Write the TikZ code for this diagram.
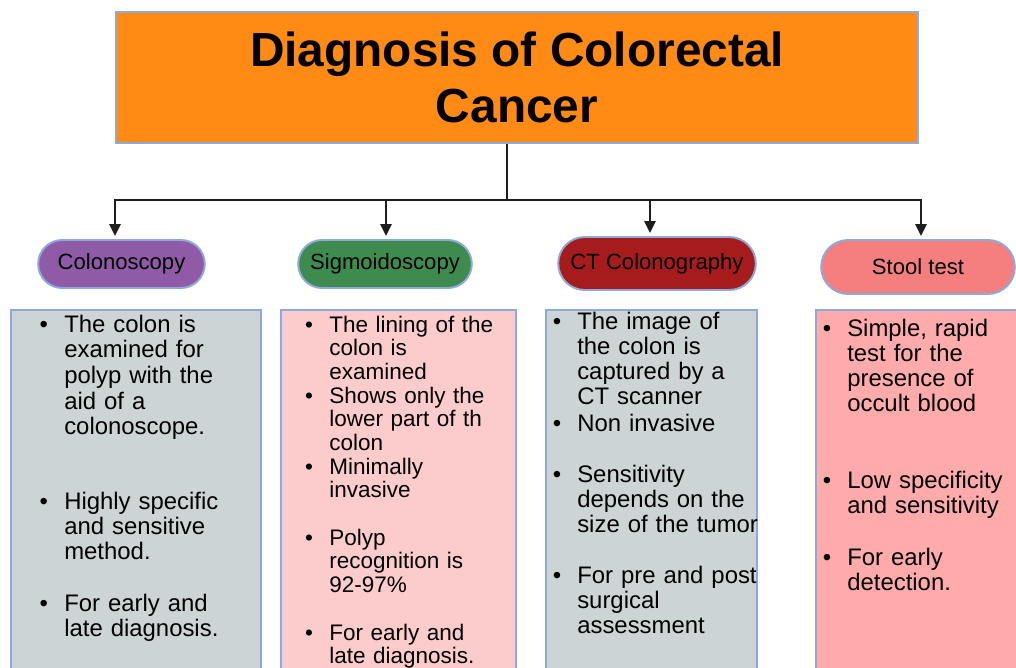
\documentclass[tikz,border=0pt]{standalone}
\usepackage{fontspec}
\setmainfont{Liberation Sans}
\usetikzlibrary{arrows.meta,shapes.misc}
\definecolor{ink}{HTML}{1E1E1E}
\definecolor{rim}{HTML}{8EAADB}
\definecolor{headfill}{HTML}{FF8A14}
\definecolor{colofill}{HTML}{8F5AA6}
\definecolor{sigfill}{HTML}{3E8B4F}
\definecolor{ctfill}{HTML}{A61B1B}
\definecolor{stoolfill}{HTML}{F57F7F}
\definecolor{greypanel}{HTML}{CDD4D6}
\definecolor{pinkpanel}{HTML}{FCCBCB}
\definecolor{rosepanel}{HTML}{FFABAB}
\newlength{\pxu}\setlength{\pxu}{0.025cm}
\newcommand{\itemdot}{\leavevmode\llap{\textbullet\hspace{11.5pt}}}

\begin{document}
\begin{tikzpicture}[x=0.025cm,y=-0.025cm,>={Triangle[width=8pt,length=8.5pt]},
  titlebox/.style={draw=rim,line width=1.4pt,fill=headfill,minimum width=802\pxu,minimum height=131\pxu,align=center,font=\fontsize{34}{39.4}\selectfont\bfseries},
  pill/.style={rounded rectangle,draw=rim,line width=1.4pt,minimum height=48\pxu,font=\fontsize{15.7}{18}\selectfont},
  panel/.style={draw=rim,line width=1.4pt,anchor=north west,minimum height=400\pxu},
  itm/.style={anchor=base west,inner sep=0pt,text width=220\pxu,align=left,font=\fontsize{17}{17.9}\selectfont},
  itmb/.style={itm,font=\fontsize{16}{16.9}\selectfont},
  link/.style={ink,line width=1.4pt}]
\clip (0,0) rectangle (1016,668);
\node[titlebox] (ttl) at (517,77.5) {Diagnosis of Colorectal\\Cancer};
\node[pill,fill=colofill,minimum width=176\pxu] (colo) at (121.5,264) {Colonoscopy};
\node[pill,fill=sigfill,minimum width=183\pxu] (sigm) at (385,264) {Sigmoidoscopy};
\node[pill,fill=ctfill,minimum width=207\pxu,minimum height=53\pxu] (ctc) at (657,263.5) {CT Colonography};
\node[pill,fill=stoolfill,minimum width=203\pxu,minimum height=54\pxu] (stool) at (918,267) {Stool test};
\node[panel,fill=greypanel,minimum width=250\pxu] (p1) at (10,309) {};
\node[panel,fill=pinkpanel,minimum width=235\pxu] (p2) at (280,309) {};
\node[panel,fill=greypanel,minimum width=211\pxu] (p3) at (545,309) {};
\node[panel,fill=rosepanel,minimum width=210\pxu] (p4) at (815,309) {};
\coordinate (hub) at (507,200);
\coordinate (j1) at (115,200);
\coordinate (j2) at (386,200);
\coordinate (j3) at (650,200);
\coordinate (j4) at (921,200);
\draw[link] (ttl.south -| hub) -- (hub);
\draw[link,line cap=rect] (j1) -- (j4);
\foreach \a/\b in {j1/colo,j2/sigm,j3/ctc,j4/stool}
  \draw[link,->,shorten >=3\pxu] (\a) -- (\a |- \b.north);
\node[itm,font=\fontsize{17}{18.3}\selectfont] (c1a) at (64,332) {\itemdot The colon is\\examined for\\polyp with the\\aid of a\\colonoscope.};
\node[itm] (c1b) at (64,509) {\itemdot Highly specific\\and sensitive\\method.};
\node[itm] (c1c) at (64,611) {\itemdot For early and\\late diagnosis.};
\node[itmb] (s1a) at (329,332) {\itemdot The lining of the\\colon is\\examined};
\node[itmb] (s1b) at (329,403) {\itemdot Shows only the\\lower part of th\\colon};
\node[itmb] (s1c) at (329,474) {\itemdot Minimally\\invasive};
\node[itmb] (s1d) at (329,545) {\itemdot Polyp\\recognition is\\92-97\%};
\node[itmb] (s1e) at (329,640) {\itemdot For early and\\late diagnosis.};
\node[itm] (t1a) at (577,329) {\itemdot The image of\\the colon is\\captured by a\\CT scanner};
\node[itm] (t1b) at (577,431) {\itemdot Non invasive};
\node[itm] (t1c) at (577,482) {\itemdot Sensitivity\\depends on the\\size of the tumor};
\node[itm] (t1d) at (577,583) {\itemdot For pre and post\\surgical\\assessment};
\node[itm] (f1a) at (847,336) {\itemdot Simple, rapid\\test for the\\presence of\\occult blood};
\node[itm] (f1b) at (847,488) {\itemdot Low specificity\\and sensitivity};
\node[itm] (f1c) at (847,565) {\itemdot For early\\detection.};
\end{tikzpicture}
\end{document}
